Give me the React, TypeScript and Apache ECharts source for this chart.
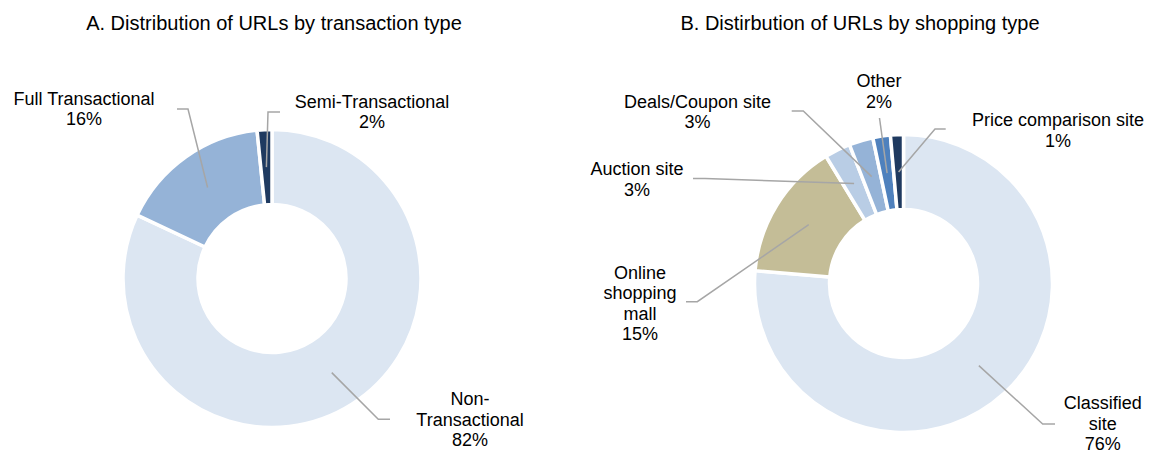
import React, { useEffect, useRef } from "react";
import * as echarts from "echarts";

// ---- data ----
const transactionTypes = ["Non-Transactional", "Full Transactional", "Semi-Transactional"];
const transactionShares = [82, 16.4, 1.6];

const shoppingTypes = [
  "Classified site",
  "Online shopping mall",
  "Auction site",
  "Deals/Coupon site",
  "Other",
  "Price comparison site",
];
const shoppingShares = [76.3, 14.9, 2.8, 2.6, 1.9, 1.4];

const chartTitles = [
  "A. Distribution of URLs by transaction type",
  "B. Distirbution of URLs by shopping type",
];

// how long category names are wrapped in the labels
const wrappedNames: Record<string, string> = {
  "Non-Transactional": "Non-\nTransactional",
  "Online shopping mall": "Online\nshopping\nmall",
  "Classified site": "Classified\nsite",
};

// ---- styling / layout ----
const transactionColors = ["#dce6f2", "#95b3d7", "#1f3a60"];
const shoppingColors = ["#dce6f2", "#c4bd97", "#b9cde5", "#95b3d7", "#4f81bd", "#1f3a60"];

const FONT = "'Liberation Sans', Arial, Helvetica, sans-serif";
const INNER_R = 74;
const OUTER_R = 149;
const MID_R = (INNER_R + OUTER_R) / 2;
const leftCenter: [number, number] = [272, 278.5];
const rightCenter: [number, number] = [903.5, 283.5];

type Placement = { label: [number, number]; elbow: [number, number]; end: [number, number] };

// label positions relative to each donut's centre
const transactionPlacements: Placement[] = [
  { label: [198, 141], elbow: [106.3, 140.8], end: [118, 140.8] },
  { label: [-188, -169.5], elbow: [-84, -169.5], end: [-95, -169.5] },
  { label: [100, -166.5], elbow: [-4, -166.5], end: [8, -166.5] },
];
const shoppingPlacements: Placement[] = [
  { label: [199.2, 140], elbow: [139.2, 140.5], end: [151.5, 140.5] },
  { label: [-263.5, 19.8], elbow: [-206.2, 18.2], end: [-217.5, 18.2] },
  { label: [-266.5, -103.8], elbow: [-198.5, -104.9], end: [-210.5, -104.9] },
  { label: [-206, -171.3], elbow: [-100.2, -172.5], end: [-111.8, -172.5] },
  { label: [-24.5, -191.8], elbow: [-24, -165.5], end: [-24, -165.5] },
  { label: [154.5, -153], elbow: [31.5, -154.5], end: [42.2, -154.5] },
];

function makeLabelLayout(center: [number, number], values: number[], placements: Placement[]) {
  const total = values.reduce((a, b) => a + b, 0);
  const mids: number[] = [];
  let acc = 0;
  values.forEach((v) => {
    mids.push(((acc + v / 2) / total) * Math.PI * 2);
    acc += v;
  });
  return (params: any) => {
    const i = params.dataIndex;
    const a = mids[i];
    const sx = center[0] + MID_R * Math.sin(a);
    const sy = center[1] - MID_R * Math.cos(a);
    const p = placements[i];
    return {
      x: center[0] + p.label[0],
      y: center[1] + p.label[1],
      align: "center",
      verticalAlign: "middle",
      labelLinePoints: [
        [sx, sy],
        [center[0] + p.elbow[0], center[1] + p.elbow[1]],
        [center[0] + p.end[0], center[1] + p.end[1]],
      ],
    };
  };
}

function makeSeries(
  names: string[],
  values: number[],
  colors: string[],
  center: [number, number],
  placements: Placement[]
) {
  const common = {
    type: "pie",
    center,
    radius: [INNER_R, OUTER_R],
    startAngle: 90,
    clockwise: true,
    avoidLabelOverlap: false,
    silent: true,
    emphasis: { disabled: true },
  };
  // donut rings
  const rings = {
    ...common,
    z: 2,
    data: names.map((n, i) => ({ name: n, value: values[i], itemStyle: { color: colors[i] } })),
    itemStyle: { borderColor: "#ffffff", borderWidth: 3.5 },
    label: { show: false },
    labelLine: { show: false },
  };
  // transparent copy on top that carries labels and leader lines
  const labels = {
    ...common,
    z: 5,
    data: names.map((n, i) => ({ name: n, value: values[i] })),
    itemStyle: { color: "rgba(0,0,0,0)", borderWidth: 0 },
    label: {
      show: true,
      position: "outside",
      formatter: (p: any) => `${wrappedNames[p.name] ?? p.name}\n${Math.round(p.percent)}%`,
      fontSize: 18,
      lineHeight: 20.5,
      color: "#000000",
      fontFamily: FONT,
    },
    labelLine: {
      show: true,
      smooth: false,
      length: 10,
      length2: 10,
      lineStyle: { color: "#a6a6a6", width: 1.5 },
    },
    labelLayout: makeLabelLayout(center, values, placements),
  };
  return [rings, labels];
}

export default function App() {
  const ref = useRef<HTMLDivElement>(null);
  useEffect(() => {
    if (!ref.current) return;
    const chart = echarts.init(ref.current, undefined, { renderer: "svg" });
    chart.setOption({
      animation: false,
      backgroundColor: "#ffffff",
      graphic: [
        {
          type: "text",
          x: 274,
          y: 23,
          style: {
            text: chartTitles[0],
            align: "center",
            verticalAlign: "middle",
            font: `20px ${FONT}`,
            fill: "#000000",
          },
        },
        {
          type: "text",
          x: 860,
          y: 23,
          style: {
            text: chartTitles[1],
            align: "center",
            verticalAlign: "middle",
            font: `20px ${FONT}`,
            fill: "#000000",
          },
        },
      ],
      series: [
        ...makeSeries(transactionTypes, transactionShares, transactionColors, leftCenter, transactionPlacements),
        ...makeSeries(shoppingTypes, shoppingShares, shoppingColors, rightCenter, shoppingPlacements),
      ],
    });
    return () => chart.dispose();
  }, []);
  return (
    <div
      ref={ref}
      style={{ position: "absolute", left: 0, top: 0, width: 1153, height: 453, background: "#fff" }}
    />
  );
}
